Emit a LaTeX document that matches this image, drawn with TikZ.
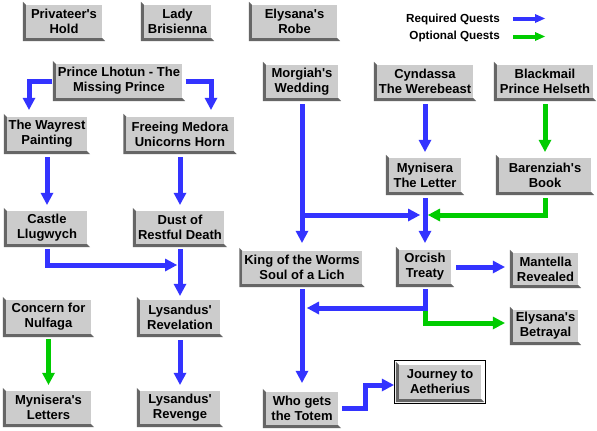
\documentclass[tikz,border=0pt]{standalone}
\usepackage{fontspec}
\newfontfamily\qf{Liberation Sans}
\usetikzlibrary{arrows.meta}
\definecolor{reqblue}{RGB}{51,51,255}
\definecolor{optgreen}{RGB}{0,204,0}
\definecolor{boxgray}{RGB}{204,204,204}
\definecolor{shadowgray}{RGB}{102,102,102}
\tikzset{
  qbox/.style={fill=boxgray, inner sep=0pt, align=center, text=black,
    font=\qf\bfseries\fontsize{13}{15}\selectfont},
  legendtext/.style={inner sep=0pt, text=black,
    font=\qf\bfseries\fontsize{11.7}{13}\selectfont},
  req/.style={draw=reqblue, line width=5pt,
    -{Triangle[width=13pt,length=12pt,line width=0pt]}},
  opt/.style={draw=optgreen, line width=5pt,
    -{Triangle[width=13pt,length=12pt,line width=0pt]}},
  reqleg/.style={draw=reqblue, line width=4pt,
    -{Triangle[width=9pt,length=10pt,line width=0pt]}},
  optleg/.style={draw=optgreen, line width=4pt,
    -{Triangle[width=9pt,length=10pt,line width=0pt]}},
}
% #1 extra options, #2 name, #3 cx, #4 cy, #5 w, #6 h, #7 text
\newcommand\qb[7][]{%
  \node[qbox,minimum width=#5pt,minimum height=#6pt,#1] (#2) at (#3,#4) {#7};
  \fill[shadowgray] (#2.north west) -- ++(-3,-3)
    -- ([shift={(-3,3)}]#2.south west) -- ([shift={(3,3)}]#2.south east)
    -- (#2.south east) -- (#2.south west) -- cycle;
}
\begin{document}
\begin{tikzpicture}[x=1pt,y=-1pt]
\useasboundingbox[fill=white] (0,0) rectangle (597,431);

% row 1
\qb{priv}{64}{21.5}{76}{33}{Privateer's\\Hold}
\qb{lady}{177.5}{21.5}{67}{33}{Lady\\Brisienna}
\qb{robe}{294.5}{21.5}{85}{33}{Elysana's\\Robe}

% legend
\node[legendtext, anchor=base east] (lreq) at (500,22) {Required Quests};
\node[legendtext, anchor=base east] (lopt) at (500,39.5) {Optional Quests};
\draw[reqleg] ([xshift=13pt,yshift=3.5pt]lreq.base east) -- ++(32,0);
\draw[optleg] ([xshift=13pt,yshift=3pt]lopt.base east) -- ++(32,0);

% row 2
\qb{prince}{119}{81}{126}{34}{Prince Lhotun - The\\Missing Prince}
\qb{morg}{302}{81.5}{72}{33}{Morgiah's\\Wedding}
\qb{cynd}{425}{81.5}{96}{33}{Cyndassa\\The Werebeast}
\qb{black}{545}{81.5}{96}{33}{Blackmail\\Prince Helseth}

% row 3
\qb{wayrest}{47}{134}{80}{34}{The Wayrest\\Painting}
\qb{freeing}{180}{134}{107}{34}{Freeing Medora\\Unicorns Horn}
\qb{letter}{425}{175}{72}{34}{Mynisera\\The Letter}
\qb{baren}{545}{175}{92}{34}{Barenziah's\\Book}

% row 4
\qb{castle}{47}{227.5}{80}{33}{Castle\\Llugwych}
\qb{dust}{180}{227.5}{88}{33}{Dust of\\Restful Death}
\qb{king}{302}{267.5}{119}{33}{King of the Worms\\Soul of a Lich}
\qb{orcish}{425}{267}{52}{34}{Orcish\\Treaty}
\qb{mantella}{545.5}{269}{65}{32}{Mantella\\Revealed}
\qb{betrayal}{545.5}{326}{65}{32}{Elysana's\\Betrayal}

% row 5
\qb{concern}{48.5}{317}{85}{34}{Concern for\\Nulfaga}
\qb{revel}{180}{317}{80}{34}{Lysandus'\\Revelation}

% row 6
\qb{letters}{48.5}{407.5}{85}{33}{Mynisera's\\Letters}
\qb{revenge}{180}{407.5}{80}{33}{Lysandus'\\Revenge}
\qb{totem}{302}{408.5}{72}{33}{Who gets\\the Totem}
\qb{journey}{440}{382}{82}{34}{Journey to\\Aetherius}
\draw[line width=1.2pt] ([shift={(-4,-4)}]journey.north west)
  rectangle ([shift={(4,4)}]journey.south east);

% junction coordinates
\coordinate (j1) at (177,265);
\coordinate (j2) at (420,215);
\coordinate (j3) at (428,215);
\coordinate (j4) at (307,308);
\coordinate (j5) at (365,385);

% connectors, left part
\draw[req] ([xshift=-3.5pt]prince.west) -| ([xshift=-18pt,yshift=7pt]wayrest.north);
\draw[req] ([xshift=3.5pt]prince.east) -| ([xshift=31pt,yshift=7pt]freeing.north);
\draw[req] ([yshift=-6pt]wayrest.south) -- ([yshift=6pt]castle.north);
\draw[req] ([yshift=-6pt]freeing.south) -- ([yshift=6pt]dust.north);
\draw[req] ([yshift=-5pt]castle.south) |- (j1);
\draw[req] ([yshift=-5pt]dust.south) -- ([yshift=4pt]revel.north);
\draw[opt] ([yshift=-5pt]concern.south) -- ([yshift=6pt]letters.north);
\draw[req] ([yshift=-6pt]revel.south) -- ([yshift=6pt]revenge.north);

% connectors, right part
\draw[req] ([yshift=-6pt]morg.south) -- ([yshift=8pt]king.north);
\draw[req] (morg.south |- j2) -- (j2);
\draw[req] ([yshift=-6pt]cynd.south) -- ([yshift=6pt]letter.north);
\draw[opt] ([yshift=-6pt]black.south) -- ([yshift=6pt]baren.north);
\draw[opt] ([yshift=-6pt]baren.south) |- (j3);
\draw[req] ([yshift=-6pt]letter.south) -- ([yshift=7pt]orcish.north);
\draw[req] ([xshift=5pt]orcish.east) -- ([xshift=-8pt]mantella.west |- orcish.east);
\draw[opt] (orcish.south |- j4) |- ([xshift=-8pt,yshift=3pt]betrayal.west);
\draw[req] ([yshift=-5pt]orcish.south) |- (j4);
\draw[req] ([yshift=-5pt]king.south) -- ([yshift=9pt]totem.north);
\draw[req] ([xshift=4pt]totem.east) -| (j5) -- ([xshift=-5pt,yshift=-3pt]journey.west);
\end{tikzpicture}
\end{document}
